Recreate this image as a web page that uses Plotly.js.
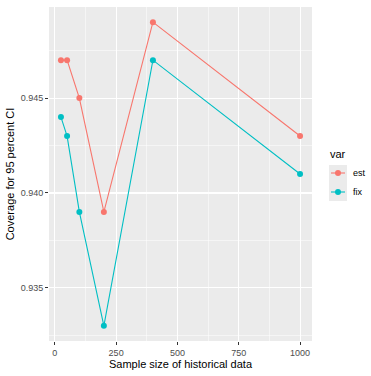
<!DOCTYPE html>
<html>
<head>
<meta charset="utf-8">
<script src="https://cdn.plot.ly/plotly-3.0.1.min.js"></script>
<style>html,body{margin:0;padding:0;background:#fff;}#chart{width:371px;height:376px;}</style>
</head>
<body>
<div id="chart"></div>
<script>
const sampleSize = [25, 50, 100, 200, 400, 1000];
const estCoverage = [0.947, 0.947, 0.945, 0.939, 0.949, 0.943];
const fixCoverage = [0.944, 0.943, 0.939, 0.933, 0.947, 0.941];
const seriesNames = ['est', 'fix'];
const legendTitle = 'var';
const xTickVals = [0, 250, 500, 750, 1000];
const yTickVals = [0.935, 0.940, 0.945];

const colors = ['#F8766D', '#00BFC4'];
const traces = [estCoverage, fixCoverage].map((ys, i) => ({
  x: sampleSize, y: ys, name: seriesNames[i], type: 'scatter', mode: 'lines+markers',
  line: {color: colors[i], width: 1.1}, marker: {color: colors[i], size: 6}
}));

// plot area geometry (px)
const W = 371, H = 376, mL = 49, mR = 59, mT = 7, mB = 35;
const pw = W - mL - mR, ph = H - mT - mB;
const px = v => (v - mL) / pw;
const py = v => 1 - (v - mT) / ph;

const font = {family: 'Liberation Sans, Arial, sans-serif'};
const axisBase = {
  showline: false, zeroline: false, gridcolor: '#FFFFFF', gridwidth: 1.1,
  ticks: 'outside', ticklen: 3, tickwidth: 1, tickcolor: '#333333',
  tickfont: {family: font.family, size: 9, color: '#4D4D4D'},
};

// manual ggplot-style legend
const shapes = [];
const annotations = [{xref: 'paper', yref: 'paper', x: px(328), y: py(154), xanchor: 'left', yanchor: 'middle',
  text: legendTitle, showarrow: false, font: {size: 11, color: '#000'}}];
shapes.push({type: 'rect', xref: 'paper', yref: 'paper', x0: px(329), x1: px(347), y0: py(165), y1: py(201),
  fillcolor: '#EBEBEB', line: {width: 0}, layer: 'below'});
seriesNames.forEach((name, i) => {
  const cy = 173 + i * 19;
  shapes.push({type: 'line', xref: 'paper', yref: 'paper', x0: px(331), x1: px(345), y0: py(cy), y1: py(cy),
    line: {color: colors[i], width: 1.1}});
  shapes.push({type: 'circle', xref: 'paper', yref: 'paper', x0: px(335), x1: px(341), y0: py(cy + 3), y1: py(cy - 3),
    fillcolor: colors[i], line: {width: 0}});
  annotations.push({xref: 'paper', yref: 'paper', x: px(351), y: py(cy), xanchor: 'left', yanchor: 'middle',
    text: name, showarrow: false, font: {size: 9, color: '#000'}});
});

const layout = {
  width: W, height: H,
  margin: {l: mL, r: mR, t: mT, b: mB, autoexpand: false},
  paper_bgcolor: '#FFFFFF', plot_bgcolor: '#EBEBEB',
  font: font,
  showlegend: false,
  xaxis: Object.assign({}, axisBase, {
    range: [-23.75, 1048.75], tickvals: xTickVals, ticktext: xTickVals.map(String),
    minor: {tickvals: [125, 375, 625, 875], showgrid: true, gridcolor: '#FFFFFF', gridwidth: 0.5, ticks: ''},
    title: {text: 'Sample size of historical data', font: {size: 11, color: '#000'}, standoff: 1}
  }),
  yaxis: Object.assign({}, axisBase, {
    range: [0.9322, 0.9498], tickvals: yTickVals, ticktext: yTickVals.map(v => v.toFixed(3)),
    minor: {tickvals: [0.9325, 0.9375, 0.9425, 0.9475], showgrid: true, gridcolor: '#FFFFFF', gridwidth: 0.5, ticks: ''},
    title: {text: 'Coverage for 95 percent CI', font: {size: 11, color: '#000'}, standoff: 3}
  }),
  shapes: shapes,
  annotations: annotations
};
Plotly.newPlot('chart', traces, layout, {displayModeBar: false, staticPlot: true});
</script>
</body>
</html>
